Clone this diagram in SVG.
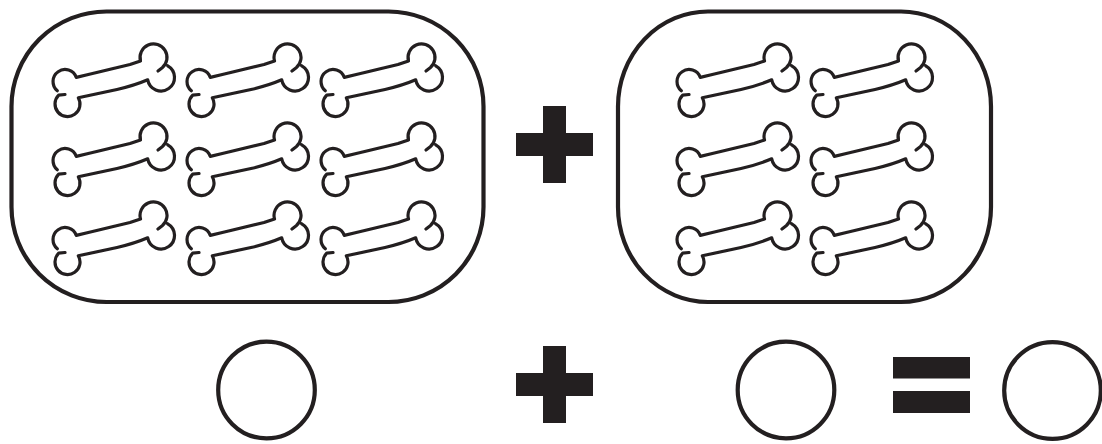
<svg xmlns="http://www.w3.org/2000/svg" xmlns:xlink="http://www.w3.org/1999/xlink" width="1102" height="444" viewBox="0 0 1102 444">
<style>
.box{fill:#fff;stroke:#231f20;stroke-width:4.2}
.bone{fill:none;stroke:#231f20;stroke-width:3.2;stroke-linecap:round;stroke-linejoin:round}
.sym{fill:#231f20}
.ring{fill:none;stroke:#231f20;stroke-width:4.2}
</style>
<defs>
<path id="bone" class="bone" d="M 57.3,90.7 A 12 12 0 1 1 76.3,77.4 C 95,73 115,68 130,64.5 L 140.5,61 A 13.5 13.5 0 1 1 162.2,67.8 L 158,71 M 167.75,65.8 A 13.5 13.5 0 1 1 147.7,79.8 C 138,84 128,87 117,89.5 L 78.3,97.75 A 12.5 12.5 0 1 1 58.7,95.2 L 65,94.5"/>
</defs>
<rect width="1102" height="444" fill="#fff"/>
<g id="group-left">
<rect class="box" x="11.5" y="11.5" width="472" height="290.5" rx="95" ry="95"/>
<use xlink:href="#bone" href="#bone" transform="translate(0,0)"/>
<use xlink:href="#bone" href="#bone" transform="translate(134,0)"/>
<use xlink:href="#bone" href="#bone" transform="translate(268,0)"/>
<use xlink:href="#bone" href="#bone" transform="translate(0,79)"/>
<use xlink:href="#bone" href="#bone" transform="translate(134,79)"/>
<use xlink:href="#bone" href="#bone" transform="translate(268,79)"/>
<use xlink:href="#bone" href="#bone" transform="translate(0,158)"/>
<use xlink:href="#bone" href="#bone" transform="translate(134,158)"/>
<use xlink:href="#bone" href="#bone" transform="translate(268,158)"/>
</g>
<g id="plus-top">
<rect class="sym" x="543" y="106" width="23" height="77"/>
<rect class="sym" x="516" y="133" width="77" height="23"/>
</g>
<g id="group-right">
<rect class="box" x="618" y="11.5" width="373" height="290.5" rx="90" ry="95"/>
<use xlink:href="#bone" href="#bone" transform="translate(624,0)"/>
<use xlink:href="#bone" href="#bone" transform="translate(758,0)"/>
<use xlink:href="#bone" href="#bone" transform="translate(624,79)"/>
<use xlink:href="#bone" href="#bone" transform="translate(758,79)"/>
<use xlink:href="#bone" href="#bone" transform="translate(624,158)"/>
<use xlink:href="#bone" href="#bone" transform="translate(758,158)"/>
</g>
<g id="circle-1"><circle class="ring" cx="266.5" cy="390" r="48.3"/></g>
<g id="plus-bottom">
<rect class="sym" x="543" y="346" width="23" height="77"/>
<rect class="sym" x="516" y="373" width="77" height="23"/>
</g>
<g id="circle-2"><circle class="ring" cx="786" cy="390" r="48.3"/></g>
<g id="equals">
<rect class="sym" x="893" y="357" width="77" height="21.5"/>
<rect class="sym" x="893" y="391" width="77" height="22"/>
</g>
<g id="circle-3"><circle class="ring" cx="1052.5" cy="390.5" r="48.3"/></g>
<g id="connectors"/>
</svg>
